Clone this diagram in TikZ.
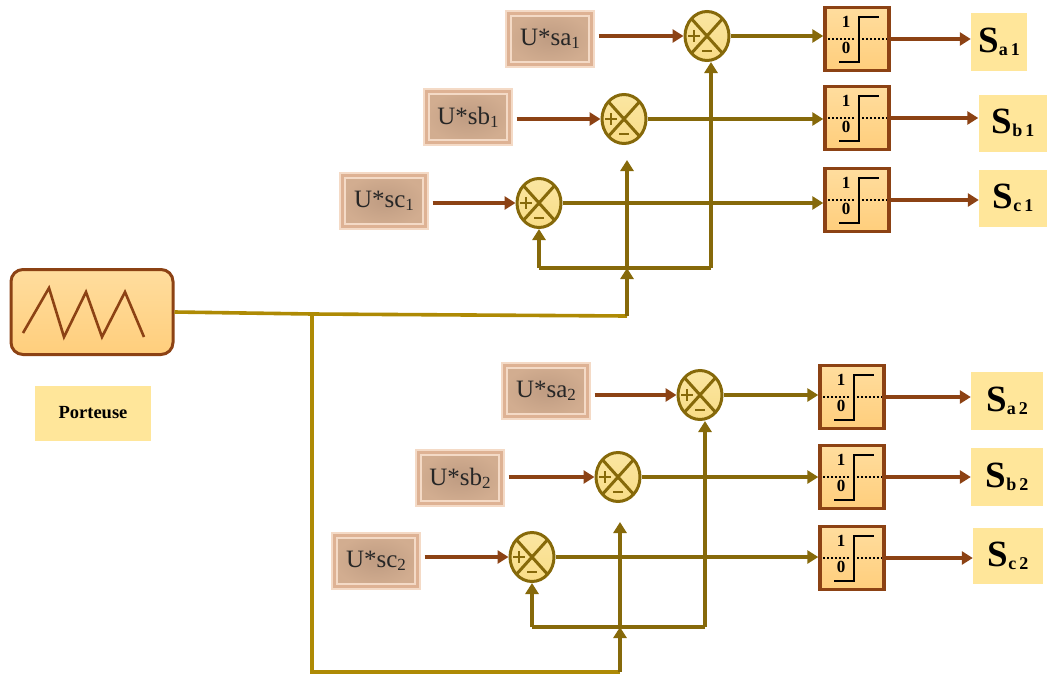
\documentclass[tikz,border=0pt]{standalone}
\usepackage{fontspec}
\setmainfont{Liberation Serif}
\usetikzlibrary{arrows.meta,shapes.geometric}

\definecolor{linebrown}{HTML}{8C4214}
\definecolor{lineolive}{HTML}{86690A}
\definecolor{linegold}{HTML}{AE8A04}
\definecolor{srcedge}{HTML}{F4DAC6}
\definecolor{srcring}{HTML}{DEB294}
\definecolor{srcfill}{HTML}{BF9C82}
\definecolor{srcdark}{HTML}{D2AD90}
\definecolor{blocktop}{HTML}{FFDD9E}
\definecolor{blockbot}{HTML}{FFCE7C}
\definecolor{sumtop}{HTML}{FAE6A2}
\definecolor{sumbot}{HTML}{F9DC86}
\definecolor{labelfill}{HTML}{FFE69A}

\newcommand{\srcname}[2]{{\fontsize{25}{25}\selectfont U*#1\raisebox{-3pt}{\fontsize{17}{17}\selectfont #2}}}
\newcommand{\outname}[2]{{\bfseries\fontsize{37}{37}\selectfont S\raisebox{-3pt}{\fontsize{18}{18}\selectfont #1\,#2}}}

\tikzset{
	srcbox/.style={draw=srcedge, line width=2pt, double=srcring, double distance=3pt, inner color=srcfill, outer color=srcdark, minimum width=83pt, minimum height=51pt, inner sep=0pt, text=black!85},
	outbox/.style={fill=labelfill, inner sep=0pt, text=black},
	sumnode/.style={ellipse, draw=lineolive, line width=3pt, top color=sumtop, bottom color=sumbot, minimum width=44pt, minimum height=49pt, inner sep=0pt,
		path picture={
			\draw[lineolive, line width=3pt] (path picture bounding box.north west) -- (path picture bounding box.south east);
			\draw[lineolive, line width=3pt] (path picture bounding box.north east) -- (path picture bounding box.south west);
			\draw[lineolive, line width=2.2pt] ([xshift=-13pt]path picture bounding box.center) ++(-6,0) -- ++(12,0) ++(-6,-6) -- ++(0,12);
			\draw[lineolive, line width=2.2pt] ([xshift=-5pt,yshift=-15pt]path picture bounding box.center) -- ++(10,0);
		}},
	stepblock/.style={draw=linebrown, line width=3.4pt, top color=blocktop, bottom color=blockbot, minimum width=64pt, minimum height=63pt, inner sep=0pt,
		path picture={
			\coordinate (c) at (path picture bounding box.center);
			\draw[black, line width=2pt] (c) ++(-18,23) -- ++(20,0) -- ++(0,-45) -- ++(20,0);
			\draw[black, line width=2pt, dotted] (c) ++(-33,0) -- ++(30,0) ++(8,0) -- ++(26,0);
			\node[font=\bfseries\fontsize{17}{17}\selectfont, inner sep=0pt] at ([xshift=-11pt,yshift=17pt]c) {1};
			\node[font=\bfseries\fontsize{17}{17}\selectfont, inner sep=0pt] at ([xshift=-11pt,yshift=-9pt]c) {0};
		}},
	brownarrow/.style={draw=linebrown, line width=3.4pt, -{Triangle[length=11pt,width=13pt]}},
	olivearrow/.style={draw=lineolive, line width=3.4pt, -{Triangle[length=11pt,width=13pt]}},
	oliveline/.style={draw=lineolive, line width=3.4pt},
	goldline/.style={draw=linegold, line width=3.6pt},
}

\begin{document}
\begin{tikzpicture}[x=1pt, y=-1pt]
	\useasboundingbox (0,0) rectangle (1047,675);

	% carrier
	\node[draw=linebrown, line width=3pt, rounded corners=12pt, top color=blocktop, bottom color=blockbot, minimum width=162pt, minimum height=85pt, inner sep=0pt] (carrier) at (92,312) {};
	\draw[linebrown, line width=2.6pt] (23,333) -- (49,288) -- (64,337) -- (86,292) -- (102,337) -- (125,292) -- (144,337);
	\node[fill=labelfill, minimum width=116pt, minimum height=55pt, inner sep=0pt, font=\bfseries\fontsize{18.5}{18.5}\selectfont] (porteuse) at (93,413) {Porteuse};

	% the six channels
	\foreach \nm/\grp/\idx/\sx/\sy/\mx/\my/\bx/\by/\ox/\oy/\ow/\oh in {
		sa/a/1/550/39/707/36/857/39/999/42/56/58,
		sb/b/1/468/117/624/119/857/118/1013/123/69/57,
		sc/c/1/384/201/539/203/857/200/1013/198/68/57,
		sa/a/2/546/391/700/395/852/397/1007/401/72/58,
		sb/b/2/460/478/618/477/852/477/1007/477/72/58,
		sc/c/2/376/561/532/557/852/558/1008/556/70/56} {
		\node[srcbox] (src\grp\idx) at (\sx,\sy) {\srcname{\nm}{\idx}};
		\node[sumnode] (sum\grp\idx) at (\mx,\my) {};
		\node[stepblock] (blk\grp\idx) at (\bx,\by) {};
		\node[outbox, minimum width=\ow pt, minimum height=\oh pt] (out\grp\idx) at (\ox,\oy) {\outname{\grp}{\idx}};
		\draw[brownarrow] ([xshift=6pt]src\grp\idx.east |- sum\grp\idx.west) -- (sum\grp\idx.west);
		\draw[olivearrow] (sum\grp\idx.east) -- (sum\grp\idx.east -| blk\grp\idx.west);
		\draw[brownarrow] (blk\grp\idx.east) -- (blk\grp\idx.east -| out\grp\idx.west);
	}

	% carrier distribution, upper group
	\coordinate (branch) at (312,314);
	\coordinate (corner1) at (627,316);
	\coordinate (join1) at (627,268);
	\coordinate (left1) at (539,268);
	\coordinate (right1) at (711,268);
	\coordinate (tip1) at (627,160);
	\draw[goldline] (carrier.east) -- (branch) -- (corner1);
	\draw[olivearrow] (corner1) -- (join1);
	\draw[olivearrow] (join1) -- (tip1);
	\draw[oliveline] (right1) -- (left1);
	\draw[olivearrow] (left1) -- (sumc1.south);
	\draw[olivearrow] (right1) -- (right1 |- suma1.south);

	% lower group
	\coordinate (down) at (312,672);
	\coordinate (corner2) at (620,672);
	\coordinate (join2) at (620,627);
	\coordinate (left2) at (532,627);
	\coordinate (right2) at (705,627);
	\coordinate (tip2) at (620,522);
	\draw[goldline] (branch) -- (down) -- (corner2);
	\draw[olivearrow] (corner2) -- (join2);
	\draw[olivearrow] (join2) -- (tip2);
	\draw[oliveline] (right2) -- (left2);
	\draw[olivearrow] (left2) -- (sumc2.south);
	\draw[olivearrow] (right2) -- (right2 |- suma2.south);
\end{tikzpicture}
\end{document}
